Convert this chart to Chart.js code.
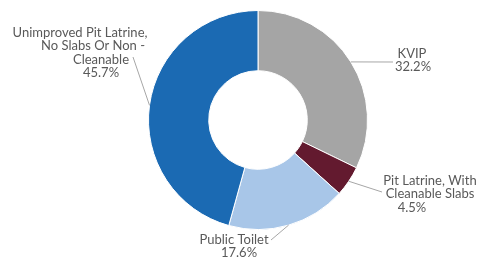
<!DOCTYPE html>
<html>
<head>
<meta charset="utf-8">
<script src="https://cdn.jsdelivr.net/npm/chart.js@4.4.0/dist/chart.umd.min.js"></script>
<style>
  body { margin: 0; background: #fff; }
  canvas { display: block; }
</style>
</head>
<body>
<canvas id="sanChart" width="484" height="262"></canvas>
<script>
// categories (split into label lines) and share in percent
const categories = [
    ["KVIP"],
    ["Pit Latrine, With", "Cleanable Slabs"],
    ["Public Toilet"],
    ["Unimproved Pit Latrine,", "No Slabs Or Non -", "Cleanable"]
];
const shares = [32.2, 4.5, 17.6, 45.7];
const sliceColors = ["#A5A5A5", "#631A2F", "#A8C6E8", "#1B6AB3"];

// where each label sits: center x of each line, y of first line, end of leader line
const labelSpots = [
    { xs: [412, 413], y: 54, lineEnd: [393, 62] },
    { xs: [430, 430, 412], y: 181, lineEnd: [382, 192] },
    { xs: [234, 239], y: 240, lineEnd: [271, 240] },
    { xs: [80, 93, 101, 101], y: 33, lineEnd: [133, 57] }
];

const leaderLabels = {
    id: "leaderLabels",
    afterDraw(chart) {
        const ctx = chart.ctx;
        const arcs = chart.getDatasetMeta(0).data;
        ctx.save();
        arcs.forEach(function (arc, i) {
            const p = arc.getProps(["x", "y", "startAngle", "endAngle", "outerRadius"], true);
            const mid = (p.startAngle + p.endAngle) / 2;
            const sx = p.x + Math.cos(mid) * p.outerRadius;
            const sy = p.y + Math.sin(mid) * p.outerRadius;
            const spot = labelSpots[i];

            ctx.strokeStyle = "#A6A6A6";
            ctx.lineWidth = 1;
            ctx.beginPath();
            ctx.moveTo(sx, sy);
            ctx.lineTo(spot.lineEnd[0], spot.lineEnd[1]);
            ctx.stroke();

            const lines = categories[i].concat([shares[i].toFixed(1) + "%"]);
            ctx.fillStyle = "#595959";
            ctx.font = "13px Lato";
            ctx.textAlign = "center";
            ctx.textBaseline = "middle";
            lines.forEach(function (t, k) {
                ctx.fillText(t, spot.xs[k], spot.y + k * 13.3);
            });
        });
        ctx.restore();
    }
};

new Chart(document.getElementById("sanChart"), {
    type: "doughnut",
    data: {
        labels: categories,
        datasets: [{
            data: shares,
            backgroundColor: sliceColors,
            borderColor: "#ffffff",
            borderWidth: 1
        }]
    },
    options: {
        responsive: false,
        animation: false,
        devicePixelRatio: 1,
        cutout: "45%",
        layout: { padding: { left: 148, right: 116, top: 10, bottom: 32 } },
        plugins: {
            legend: { display: false },
            tooltip: { enabled: false }
        }
    },
    plugins: [leaderLabels]
});
</script>
</body>
</html>
